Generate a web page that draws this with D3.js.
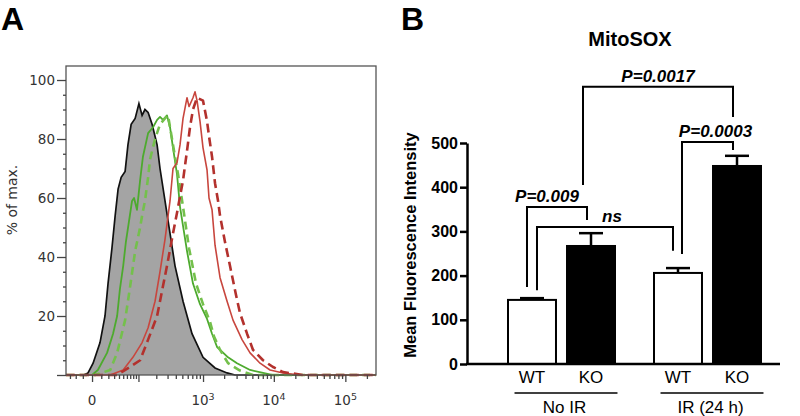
<!DOCTYPE html>
<html>
<head>
<meta charset="utf-8">
<script src="https://cdn.jsdelivr.net/npm/d3@7"></script>
<style>
  body { margin: 0; background: #fff; }
  svg { display: block; }
</style>
</head>
<body>
<div id="chart"></div>
<script>
// ---- Panel A: flow histograms, [fluorescence, % of max] ----
var histControl = [[-38,0],[-9,0],[-4,0.7],[1,4],[8.5,11],[15,20],[19.5,31],[26,43],[32,54],[38,63],[45,67],[55,69],[63,78],[73,85],[87,87],[102,92],[116,88],[130,90],[147,89],[171,85],[206,78],[229,70],[274,59],[327,48],[389,37],[512,25],[693,14],[1000,6],[1485,2.4],[2200,0.7],[2850,0],[268000,0]];
var histGreenSolid = [[-38,0],[0,0],[6,1.7],[18,7.5],[28,14],[36,20],[42,29],[50,37],[57,45],[66,52],[76,59],[83,60],[94,56],[107,66],[120,74],[147,82],[177,84],[206,86.5],[229,87.5],[255,86.5],[294,88],[327,84],[363,77],[417,68],[462,57],[586,42],[716,31],[905,24],[1142,19],[1346,14],[1587,9.5],[2270,6],[3040,4],[4640,1.7],[7060,0.7],[9430,0],[268000,0]];
var histGreenDashed = [[-38,0],[3,0],[23,1.7],[36,7.5],[55,18.6],[69,29.5],[87,42],[107,50],[116,54],[130,59],[147,67],[158,73],[191,80],[229,85],[274,87],[305,88],[363,78],[432,68],[512,57],[627,43],[793,31],[1000,24],[1260,18],[1438,13],[1750,8.5],[2270,4],[3350,1.5],[5110,0],[268000,0]];
var histRedSolid = [[-38,0],[23,0],[50,1.7],[79,6],[116,11],[147,16],[191,25],[229,35],[274,46],[327,59],[363,70],[417,72],[462,78],[512,87],[586,94],[627,91],[716,94],[767,96],[820,93],[905,86],[1000,77],[1142,69.5],[1218,60],[1346,56],[1485,44],[1750,33],[2200,25],[2670,18.6],[3580,12],[4640,7.5],[6410,4],[8850,1.7],[13450,0.7],[23300,0],[268000,0]];
var histRedDashed = [[-38,0],[36,0],[69,2.7],[107,5],[147,12],[206,20],[229,25],[294,37],[363,48],[417,55],[512,66],[586,76],[648,84],[716,90],[820,94],[1000,93],[1142,86],[1218,81],[1346,74],[1485,65],[1640,59],[1750,54],[2060,45],[2420,37],[2950,27],[3350,21],[4210,14],[5110,8.5],[7060,5],[9750,2.7],[13450,1],[25600,0],[268000,0]];

var yTickMajorA = [0, 20, 40, 60, 80, 100];
var yTickMinorA = [5, 10, 15, 25, 30, 35, 45, 50, 55, 65, 70, 75, 85, 90, 95];
var xTickMajorA = [0, 100, 1000, 10000, 100000];
var xTickMinorA = [-30, -20, -10, 10, 20, 30, 40, 50, 60, 70, 80, 90,
                   200, 300, 400, 500, 600, 700, 800, 900,
                   2000, 3000, 4000, 5000, 6000, 7000, 8000, 9000,
                   20000, 30000, 40000, 50000, 60000, 70000, 80000, 90000, 200000];
var xTickLabelA = [0, 1000, 10000, 100000];

// ---- Panel B: MitoSOX bars ----
var groups = ["No IR", "IR (24 h)"];
var genotypes = ["WT", "KO"];
var barGroup = ["No IR", "No IR", "IR (24 h)", "IR (24 h)"];
var barGenotype = ["WT", "KO", "WT", "KO"];
var barMean = [145, 267, 206, 448];
var barSem = [4, 29, 11, 23];
var yTicksB = [0, 100, 200, 300, 400, 500];

// significance brackets (bar indexes, heights in MFI units)
var bracketFrom = [0, 0, 1, 2];
var bracketTo = [1, 2, 3, 3];
var bracketTop = [355, 310, 627, 502];
var bracketFromEnd = [174, 167, 405, 249];
var bracketToEnd = [326, 256, 559, 484];
var bracketLabel = ["P=0.009", "ns", "P=0.0017", "P=0.0003"];

var W = 800, H = 416;
var svg = d3.select("#chart").append("svg")
    .attr("width", W)
    .attr("height", H);
svg.append("rect").attr("width", W).attr("height", H).attr("fill", "#fff");

// panel letters
svg.append("text").attr("x", 1).attr("y", 30).text("A")
    .style("font-family", "Liberation Sans, Arial, sans-serif")
    .style("font-weight", "bold").style("font-size", "32px");
svg.append("text").attr("x", 401).attr("y", 30).text("B")
    .style("font-family", "Liberation Sans, Arial, sans-serif")
    .style("font-weight", "bold").style("font-size", "32px");

// ================= Panel A =================
var xA = d3.scaleSymlog().constant(29)
    .domain([-38, 268000])
    .range([66, 376]);
var yA = d3.scaleLinear()
    .domain([0, 104.75])
    .range([375, 66]);

var gA = svg.append("g");

var area = d3.area()
    .x(function(d) { return xA(d[0]); })
    .y0(yA(0))
    .y1(function(d) { return yA(d[1]); });
var line = d3.line()
    .x(function(d) { return xA(d[0]); })
    .y(function(d) { return yA(d[1]); });

gA.append("path").datum(histControl)
    .attr("d", area)
    .attr("fill", "#a4a4a4");
gA.append("path").datum(histControl)
    .attr("d", line)
    .attr("fill", "none")
    .attr("stroke", "#111")
    .attr("stroke-width", 1.7);

var seriesA = [
  {values: histGreenSolid, color: "#4daa2e", width: 1.8, dash: null},
  {values: histGreenDashed, color: "#74c04c", width: 2.6, dash: "8,5"},
  {values: histRedSolid, color: "#c8463e", width: 1.6, dash: null},
  {values: histRedDashed, color: "#b3312d", width: 2.6, dash: "9,5"}
];
gA.selectAll("path.hist")
  .data(seriesA)
  .enter()
  .append("path")
    .attr("class", "hist")
    .attr("d", function(d) { return line(d.values); })
    .attr("fill", "none")
    .attr("stroke", function(d) { return d.color; })
    .attr("stroke-width", function(d) { return d.width; })
    .attr("stroke-dasharray", function(d) { return d.dash; })
    .attr("stroke-linejoin", "round");

// frame
gA.append("rect")
    .attr("x", 66).attr("y", 66)
    .attr("width", 310).attr("height", 309)
    .attr("fill", "none")
    .attr("stroke", "#555")
    .attr("stroke-width", 1.3);

// y axis (minor + major)
var yMinor = gA.append("g").attr("transform", "translate(66,0)")
    .call(d3.axisLeft(yA).tickValues(yTickMinorA).tickSize(3).tickFormat(""));
var yMajor = gA.append("g").attr("transform", "translate(66,0)")
    .call(d3.axisLeft(yA).tickValues(yTickMajorA).tickSize(9).tickPadding(2)
      .tickFormat(function(d) { return d === 0 ? "" : d; }));
// x axis (minor + major)
var xMinor = gA.append("g").attr("transform", "translate(0,375)")
    .call(d3.axisBottom(xA).tickValues(xTickMinorA).tickSize(4).tickFormat(""));
var xMajor = gA.append("g").attr("transform", "translate(0,375)")
    .call(d3.axisBottom(xA).tickValues(xTickMajorA).tickSize(7).tickFormat(""));

[yMinor, yMajor, xMinor, xMajor].forEach(function(ax) {
  ax.select(".domain").remove();
  ax.selectAll("line").attr("stroke", "#444").attr("stroke-width", 1.3);
  ax.selectAll("text")
    .style("font-family", "DejaVu Sans, sans-serif")
    .style("font-size", "13.5px")
    .attr("fill", "#333");
});

// x labels with superscripts
gA.selectAll("text.xlab")
  .data(xTickLabelA)
  .enter()
  .append("text")
    .attr("class", "xlab")
    .attr("x", function(d) { return xA(d); })
    .attr("y", 405)
    .attr("text-anchor", "middle")
    .style("font-family", "DejaVu Sans, sans-serif")
    .style("font-size", "13.5px")
    .attr("fill", "#333")
    .each(function(d) {
      var t = d3.select(this);
      if (d === 0) { t.text("0"); return; }
      t.append("tspan").text("10");
      t.append("tspan").attr("dy", -5).style("font-size", "9.5px")
        .text(Math.round(Math.log10(d)));
    });

gA.append("text")
    .attr("transform", "translate(17,200) rotate(-90)")
    .attr("text-anchor", "middle")
    .style("font-family", "DejaVu Sans, sans-serif")
    .style("font-size", "14px")
    .attr("fill", "#333")
    .text("% of max.");

// ================= Panel B =================
var gB = svg.append("g");
var fontB = "Liberation Sans, Arial, sans-serif";

var x0 = d3.scaleBand().domain(groups)
    .range([488.5, 780.5])
    .paddingInner(0.192)
    .paddingOuter(0.096);
var x1 = d3.scaleBand().domain(genotypes)
    .range([0, x0.bandwidth()])
    .paddingInner(0.153)
    .paddingOuter(0.076);
var yB = d3.scaleLinear().domain([0, 500]).range([364, 143]);

function barX(i) { return x0(barGroup[i]) + x1(barGenotype[i]); }
function barC(i) { return barX(i) + x1.bandwidth() / 2; }

var bars = d3.range(barMean.length);

// error bars
gB.selectAll("line.err")
  .data(bars)
  .enter()
  .append("line")
    .attr("class", "err")
    .attr("x1", barC).attr("x2", barC)
    .attr("y1", function(i) { return yB(barMean[i]); })
    .attr("y2", function(i) { return yB(barMean[i] + barSem[i]); })
    .attr("stroke", "#000").attr("stroke-width", 2.5);
gB.selectAll("line.cap")
  .data(bars)
  .enter()
  .append("line")
    .attr("class", "cap")
    .attr("x1", function(i) { return barC(i) - 12; })
    .attr("x2", function(i) { return barC(i) + 12; })
    .attr("y1", function(i) { return yB(barMean[i] + barSem[i]); })
    .attr("y2", function(i) { return yB(barMean[i] + barSem[i]); })
    .attr("stroke", "#000").attr("stroke-width", 2.5);

// bars
gB.selectAll("rect.bar")
  .data(bars)
  .enter()
  .append("rect")
    .attr("class", "bar")
    .attr("x", function(i) { return barX(i) + 1; })
    .attr("width", x1.bandwidth() - 2)
    .attr("y", function(i) { return yB(barMean[i]); })
    .attr("height", function(i) { return yB(0) - yB(barMean[i]); })
    .attr("fill", function(i) { return barGenotype[i] === "WT" ? "#fff" : "#000"; })
    .attr("stroke", "#000")
    .attr("stroke-width", 2);

// axes
var yAxisB = gB.append("g").attr("transform", "translate(467,0)")
    .call(d3.axisLeft(yB).tickValues(yTicksB).tickSize(7).tickSizeOuter(0).tickPadding(2));
yAxisB.selectAll("line, path").attr("stroke", "#000").attr("stroke-width", 2.5);
yAxisB.selectAll("text")
    .style("font-family", fontB)
    .style("font-weight", "bold")
    .style("font-size", "16px")
    .attr("fill", "#000");
gB.append("line")
    .attr("x1", 466).attr("x2", 780)
    .attr("y1", yB(0)).attr("y2", yB(0))
    .attr("stroke", "#000").attr("stroke-width", 2.5);

// genotype labels
gB.selectAll("text.geno")
  .data(bars)
  .enter()
  .append("text")
    .attr("class", "geno")
    .attr("x", barC)
    .attr("y", 383)
    .attr("text-anchor", "middle")
    .style("font-family", fontB)
    .style("font-size", "17px")
    .text(function(i) { return barGenotype[i]; });

// group underline + labels
gB.selectAll("line.grp")
  .data(groups)
  .enter()
  .append("line")
    .attr("class", "grp")
    .attr("x1", function(g) { return x0(g) + 12; })
    .attr("x2", function(g) { return x0(g) + x0.bandwidth() - 3; })
    .attr("y1", 393).attr("y2", 393)
    .attr("stroke", "#000").attr("stroke-width", 1.6);
gB.selectAll("text.grp")
  .data(groups)
  .enter()
  .append("text")
    .attr("class", "grp")
    .attr("x", function(g) { return x0(g) + x0.bandwidth() / 2 + 3; })
    .attr("y", 413)
    .attr("text-anchor", "middle")
    .style("font-family", fontB)
    .style("font-size", "17px")
    .text(function(g) { return g; });

// brackets
var legFromDx = [-5, 5, -8, 4];
var legToDx = [-4, -5, -4, -4];
var labelDx = [-10, 7, 0, 8];
var brk = d3.range(bracketLabel.length);
gB.selectAll("path.brk")
  .data(brk)
  .enter()
  .append("path")
    .attr("class", "brk")
    .attr("d", function(k) {
      var xa = barC(bracketFrom[k]) + legFromDx[k];
      var xb = barC(bracketTo[k]) + legToDx[k];
      return "M" + xa + "," + yB(bracketFromEnd[k]) +
             "V" + yB(bracketTop[k]) +
             "H" + xb +
             "V" + yB(bracketToEnd[k]);
    })
    .attr("fill", "none")
    .attr("stroke", "#000")
    .attr("stroke-width", 2);
gB.selectAll("text.brk")
  .data(brk)
  .enter()
  .append("text")
    .attr("class", "brk")
    .attr("x", function(k) {
      return (barC(bracketFrom[k]) + legFromDx[k] + barC(bracketTo[k]) + legToDx[k]) / 2 + labelDx[k];
    })
    .attr("y", function(k) { return yB(bracketTop[k]) - 5; })
    .attr("text-anchor", "middle")
    .style("font-family", fontB)
    .style("font-weight", "bold")
    .style("font-style", "italic")
    .style("font-size", "17px")
    .text(function(k) { return bracketLabel[k]; });

// titles
gB.append("text")
    .attr("x", 630).attr("y", 46)
    .attr("text-anchor", "middle")
    .style("font-family", fontB)
    .style("font-weight", "bold")
    .style("font-size", "20px")
    .text("MitoSOX");
gB.append("text")
    .attr("transform", "translate(416,245) rotate(-90)")
    .attr("text-anchor", "middle")
    .style("font-family", fontB)
    .style("font-weight", "bold")
    .style("font-size", "16.5px")
    .text("Mean Fluorescence Intensity");
</script>
</body>
</html>
